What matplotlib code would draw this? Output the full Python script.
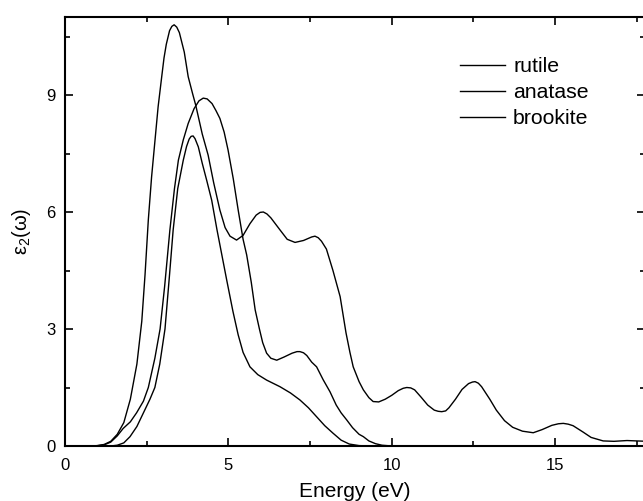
import matplotlib
matplotlib.use("Agg")
import matplotlib.pyplot as plt
from matplotlib.ticker import MultipleLocator

plt.rcParams['font.family'] = ['Liberation Sans', 'DejaVu Sans']
plt.rcParams['mathtext.fontset'] = 'custom'
plt.rcParams['mathtext.rm'] = 'Liberation Sans'
plt.rcParams['mathtext.default'] = 'regular'

# values (energy in eV, eps2)
rutile_x = [0.0, 0.8, 1.0, 1.2, 1.4, 1.6, 1.8, 2.0, 2.2, 2.35, 2.45, 2.55, 2.65, 2.75,
            2.85, 2.96, 3.03, 3.1, 3.2, 3.27, 3.34, 3.42, 3.5, 3.65, 3.77, 3.9, 4.0,
            4.2, 4.38, 4.55, 4.74, 4.9, 5.05, 5.25, 5.45, 5.66, 5.85, 5.97, 6.07,
            6.18, 6.3, 6.58, 6.8, 7.04, 7.3, 7.55, 7.65, 7.75, 7.85, 8.0, 8.2, 8.42,
            8.6, 8.72, 8.82, 9.0, 9.13, 9.3, 9.43, 9.6, 9.8, 10.0, 10.2, 10.35,
            10.46, 10.58, 10.7, 10.9, 11.1, 11.3, 11.42, 11.53, 11.65, 11.75, 11.95,
            12.15, 12.35, 12.47, 12.55, 12.65, 12.75, 13.0, 13.2, 13.45, 13.7, 14.0,
            14.33, 14.6, 14.9, 15.1, 15.25, 15.4, 15.55, 15.85, 16.1, 16.47, 16.8,
            17.2, 17.8]
rutile_y = [0.0, 0.0, 0.01, 0.04, 0.12, 0.3, 0.6, 1.2, 2.1, 3.2, 4.4, 5.8, 6.9, 7.8,
            8.7, 9.47, 9.95, 10.3, 10.65, 10.76, 10.8, 10.74, 10.6, 10.1, 9.47, 9.05, 8.74,
            8.0, 7.46, 6.75, 6.05, 5.6, 5.38, 5.28, 5.4, 5.7, 5.92, 5.99, 6.0,
            5.95, 5.85, 5.54, 5.3, 5.22, 5.27, 5.36, 5.38, 5.34, 5.25, 5.05, 4.5, 3.83,
            2.9, 2.4, 2.03, 1.65, 1.44, 1.24, 1.14, 1.13, 1.2, 1.3, 1.42, 1.48,
            1.5, 1.49, 1.44, 1.25, 1.05, 0.92, 0.89, 0.88, 0.9, 0.98, 1.2,
            1.45, 1.6, 1.64, 1.65, 1.61, 1.52, 1.2, 0.92, 0.65, 0.48, 0.38,
            0.34, 0.42, 0.53, 0.57, 0.58, 0.56, 0.52, 0.36, 0.22, 0.13, 0.12,
            0.14, 0.12]

anatase_x = [0.0, 0.8, 1.0, 1.2, 1.4, 1.6, 1.78, 2.0, 2.19, 2.4, 2.55, 2.75, 2.91, 3.05,
             3.21, 3.35, 3.47, 3.62, 3.77, 3.95, 4.1, 4.23, 4.35, 4.5, 4.62, 4.74, 4.87,
             4.99, 5.15, 5.3, 5.45, 5.56, 5.7, 5.82, 5.95, 6.05, 6.17, 6.3, 6.48, 6.7,
             6.95, 7.1, 7.19, 7.3, 7.4, 7.55, 7.7, 7.9, 8.11, 8.3, 8.45, 8.62, 8.8, 9.0,
             9.13, 9.3, 9.5, 9.7, 10.0, 17.8]
anatase_y = [0.0, 0.0, 0.01, 0.03, 0.1, 0.26, 0.45, 0.62, 0.85, 1.15, 1.5, 2.25, 3.0, 4.1,
             5.54, 6.6, 7.33, 7.85, 8.27, 8.65, 8.85, 8.92, 8.9, 8.78, 8.6, 8.4, 8.05,
             7.59, 6.85, 6.05, 5.3, 4.9, 4.2, 3.49, 3.0, 2.65, 2.38, 2.25, 2.2, 2.28,
             2.38, 2.42, 2.42, 2.39, 2.32, 2.15, 2.03, 1.7, 1.39, 1.05, 0.85, 0.67, 0.47,
             0.3, 0.24, 0.13, 0.06, 0.02, 0.0, 0.0]

brookite_x = [0.0, 1.4, 1.6, 1.8, 1.99, 2.2, 2.4, 2.6, 2.75, 2.9, 3.06, 3.2, 3.31, 3.45,
              3.62, 3.72, 3.8, 3.86, 3.92, 3.98, 4.08, 4.2, 4.34, 4.49, 4.65, 4.8, 4.95,
              5.14, 5.3, 5.45, 5.66, 5.9, 6.17, 6.58, 6.9, 7.19, 7.45, 7.7, 7.95, 8.2,
              8.45, 8.7, 9.0, 9.3, 17.8]
brookite_y = [0.0, 0.0, 0.02, 0.08, 0.24, 0.5, 0.85, 1.2, 1.5, 2.1, 3.0, 4.4, 5.54, 6.6,
              7.33, 7.68, 7.87, 7.94, 7.95, 7.88, 7.67, 7.25, 6.8, 6.3, 5.55, 4.9, 4.25,
              3.45, 2.85, 2.4, 2.03, 1.83, 1.69, 1.52, 1.36, 1.18, 0.98, 0.75, 0.52, 0.33,
              0.15, 0.05, 0.01, 0.0, 0.0]

fig = plt.figure(figsize=(6.43, 5.01), dpi=100)
ax = fig.add_axes([65/643, 1 - 446/501, 580/643, 429/501])

lw = 1.0
ax.plot(rutile_x, rutile_y, color="black", lw=lw, label="rutile")
ax.plot(anatase_x, anatase_y, color="black", lw=lw, label="anatase")
ax.plot(brookite_x, brookite_y, color="black", lw=lw, label="brookite")

ax.set_xlim(0, 17.75)
ax.set_ylim(0, 11.0)
ax.xaxis.set_major_locator(MultipleLocator(5))
ax.xaxis.set_minor_locator(MultipleLocator(2.5))
ax.yaxis.set_major_locator(MultipleLocator(3))
ax.yaxis.set_minor_locator(MultipleLocator(1.5))
ax.tick_params(which="both", direction="in", top=True, right=True, width=1.2,
               labelsize=12)
ax.tick_params(which="major", length=6)
ax.tick_params(which="minor", length=3.5)
ax.tick_params(axis="x", pad=9)
ax.tick_params(axis="y", pad=7)
for s in ax.spines.values():
    s.set_linewidth(1.5)

ax.set_xlabel("Energy (eV)", fontsize=15, labelpad=6)
ax.set_ylabel("ε$_2$(ω)", fontsize=14.5, labelpad=9)

ax.legend(loc="upper left", bbox_to_anchor=((460 - 65) / 580, 1 - 40 / 429),
          frameon=False, fontsize=15.3, handlelength=2.1, handletextpad=0.4,
          labelspacing=0.33, borderaxespad=0, borderpad=0)

fig.savefig("out.png", dpi=100)
